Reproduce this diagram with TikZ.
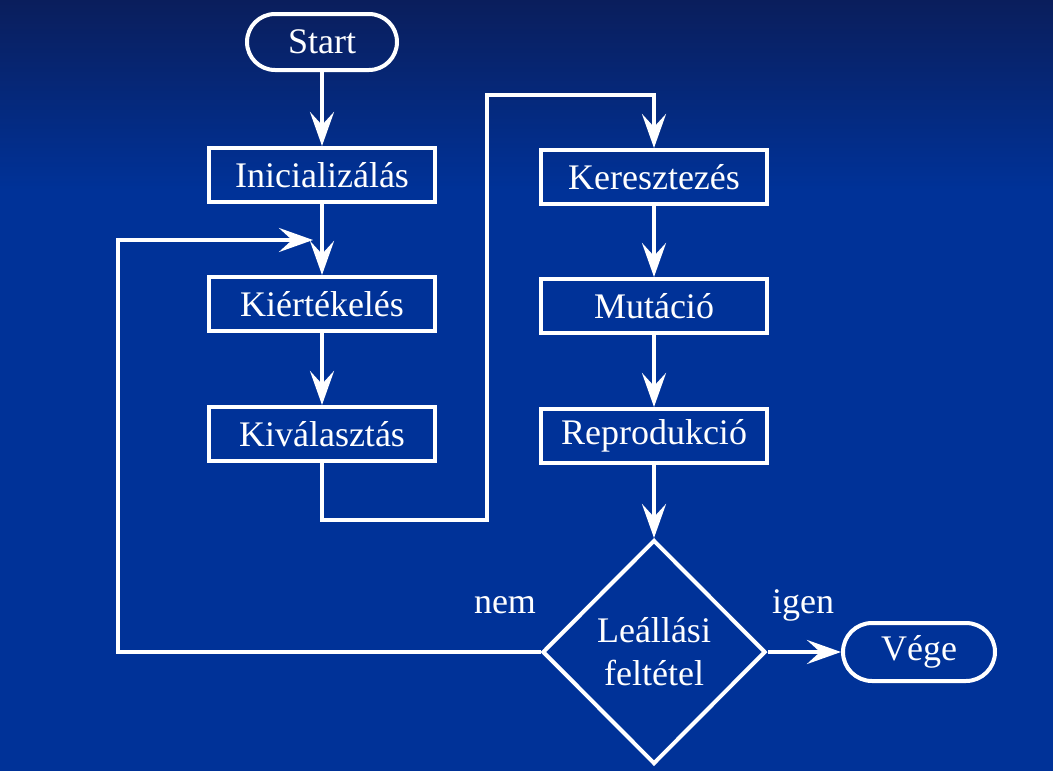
\documentclass[tikz,border=0pt]{standalone}
\usepackage{fontspec}
\setmainfont{Liberation Serif}
\usetikzlibrary{arrows.meta,shapes.geometric}
\definecolor{navytop}{RGB}{10,30,92}
\definecolor{slideblue}{RGB}{0,50,152}
\tikzset{
  box/.style={draw=white, line width=4pt, minimum width=226pt, minimum height=54pt, inner sep=0pt, text=white},
  pill/.style={draw=white, line width=4pt, rounded corners=28pt, minimum width=150pt, minimum height=56pt, inner sep=0pt, text=white},
  decision/.style={draw=white, line width=4pt, diamond, minimum width=223pt, minimum height=224pt, inner sep=0pt, text=white, align=center},
  flow/.style={draw=white, line width=4pt, -{Stealth[length=34pt,width=24pt,inset=13pt]}},
  answer/.style={text=white}
}
\begin{document}
\begin{tikzpicture}[x=1pt,y=-1pt]
    \fontsize{36}{43}\selectfont
    % background
    \fill[slideblue] (0,0) rectangle (1053,771);
    \shade[top color=navytop, bottom color=slideblue] (0,0) rectangle (1053,190);
    \useasboundingbox (0,0) rectangle (1053,771);
    % left column
    \node[pill] (start) at (322,42) {Start};
    \node[box] (init) at (322,175) {Inicializálás};
    \node[box] (eval) at (322,304) {Kiértékelés};
    \node[box] (select) at (322,434) {Kiválasztás};
    % right column
    \node[box] (cross) at (654,177) {Keresztezés};
    \node[box] (mutate) at (654,306) {Mutáció};
    \node[box] (repro) at (654,436) {Reprodukció};
    \node[decision] (stop) at (654,652) {Leállási\\feltétel};
    \node[pill, minimum width=152pt, minimum height=58pt, rounded corners=29pt] (end) at (919,652) {Vége};
    \node[answer] (no) at (505,605) {nem};
    \node[answer] (yes) at (803,605) {igen};
    % turning points
    \coordinate (backin) at (313,240);
    \coordinate (loopturn) at (118,240);
    \coordinate (lowturn) at (487,520);
    \coordinate (highturn) at (487,95);
    % connectors
    \draw[flow] (start) -- (init);
    \draw[flow] (init) -- (eval);
    \draw[flow] (eval) -- (select);
    \draw[flow] (select.south) |- (lowturn) -- (highturn) -| (cross.north);
    \draw[flow] (cross) -- (mutate);
    \draw[flow] (mutate) -- (repro);
    \draw[flow] (repro) -- (stop.north);
    \draw[flow] (stop.east) -- (end.west);
    \draw[flow] (stop.west) -| (loopturn) -- (backin);
\end{tikzpicture}
\end{document}
